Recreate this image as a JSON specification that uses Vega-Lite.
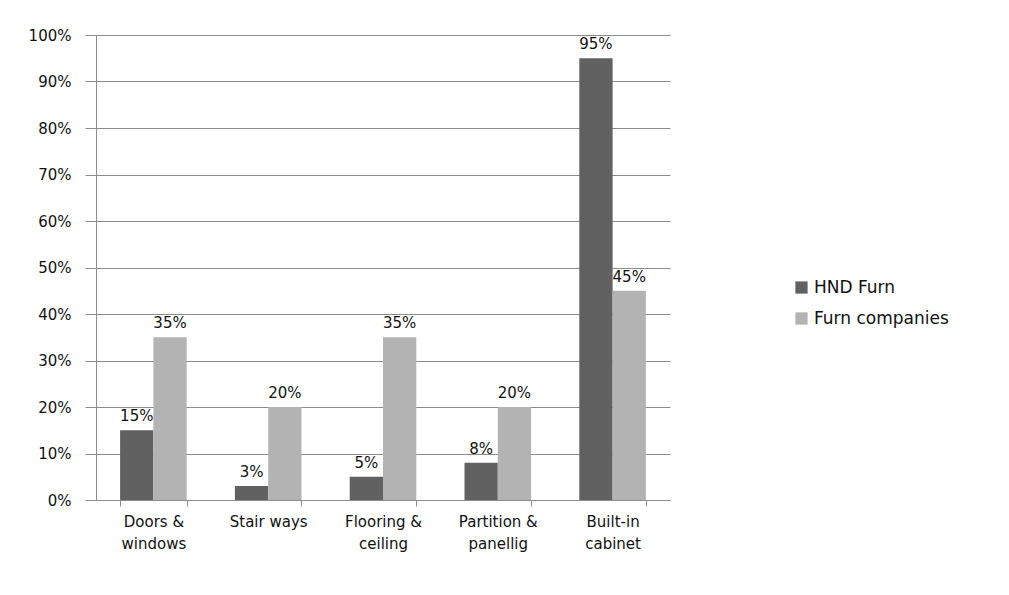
{
  "$schema": "https://vega.github.io/schema/vega-lite/v6.json",
  "autosize": "none",
  "width": 574,
  "height": 465,
  "padding": {"left": 96, "top": 35, "right": 339, "bottom": 95},
  "background": "white",
  "config": {
    "view": {"stroke": null},
    "font": "DejaVu Sans",
    "axis": {"labelFont": "DejaVu Sans", "labelColor": "#111111", "labelFontSize": 15}
  },
  "data": {
    "values": [
      {"category": "Doors & windows", "series": "HND Furn", "value": 0.15},
      {"category": "Doors & windows", "series": "Furn companies", "value": 0.35},
      {"category": "Stair ways", "series": "HND Furn", "value": 0.03},
      {"category": "Stair ways", "series": "Furn companies", "value": 0.20},
      {"category": "Flooring & ceiling", "series": "HND Furn", "value": 0.05},
      {"category": "Flooring & ceiling", "series": "Furn companies", "value": 0.35},
      {"category": "Partition & panellig", "series": "HND Furn", "value": 0.08},
      {"category": "Partition & panellig", "series": "Furn companies", "value": 0.20},
      {"category": "Built-in cabinet", "series": "HND Furn", "value": 0.95},
      {"category": "Built-in cabinet", "series": "Furn companies", "value": 0.45}
    ]
  },
  "encoding": {
    "x": {
      "field": "category",
      "type": "nominal",
      "sort": null,
      "scale": {"paddingInner": 0.42, "paddingOuter": 0.21},
      "axis": {
        "title": null,
        "labelAngle": 0,
        "labelLineHeight": 22,
        "labelPadding": 8,
        "labelExpr": "split(replace(datum.label, /(&|-in) /, '$1|'), '|')",
        "tickBand": "extent",
        "tickSize": 6,
        "tickColor": "#8c8c8c",
        "domainColor": "#8c8c8c",
        "grid": false
      }
    },
    "xOffset": {"field": "series", "type": "nominal", "sort": ["HND Furn", "Furn companies"], "scale": {"paddingInner": 0, "paddingOuter": 0}},
    "y": {
      "field": "value",
      "type": "quantitative",
      "scale": {"domain": [0, 1]},
      "axis": {
        "title": null,
        "format": ".0%",
        "values": [0, 0.1, 0.2, 0.3, 0.4, 0.5, 0.6, 0.7, 0.8, 0.9, 1],
        "labelOverlap": false,
        "tickSize": 11,
        "tickColor": "#8c8c8c",
        "domainColor": "#8c8c8c",
        "gridColor": "#8c8c8c",
        "gridWidth": 1,
        "labelPadding": 14
      }
    }
  },
  "layer": [
    {
      "mark": {"type": "bar"},
      "encoding": {
        "color": {
          "field": "series",
          "type": "nominal",
          "sort": ["HND Furn", "Furn companies"],
          "scale": {"domain": ["HND Furn", "Furn companies"], "range": ["#616161", "#b3b3b3"]},
          "legend": {
            "title": null,
            "orient": "none",
            "legendX": 697,
            "legendY": 244,
            "symbolType": "square",
            "symbolSize": 150,
            "symbolStrokeWidth": 0,
            "labelFontSize": 17,
            "labelColor": "#111111",
            "labelFont": "DejaVu Sans",
            "rowPadding": 13
          }
        }
      }
    },
    {
      "mark": {"type": "text", "baseline": "bottom", "dy": -6, "fontSize": 15, "color": "#111111"},
      "encoding": {
        "text": {"field": "value", "type": "quantitative", "format": ".0%"}
      }
    }
  ]
}
